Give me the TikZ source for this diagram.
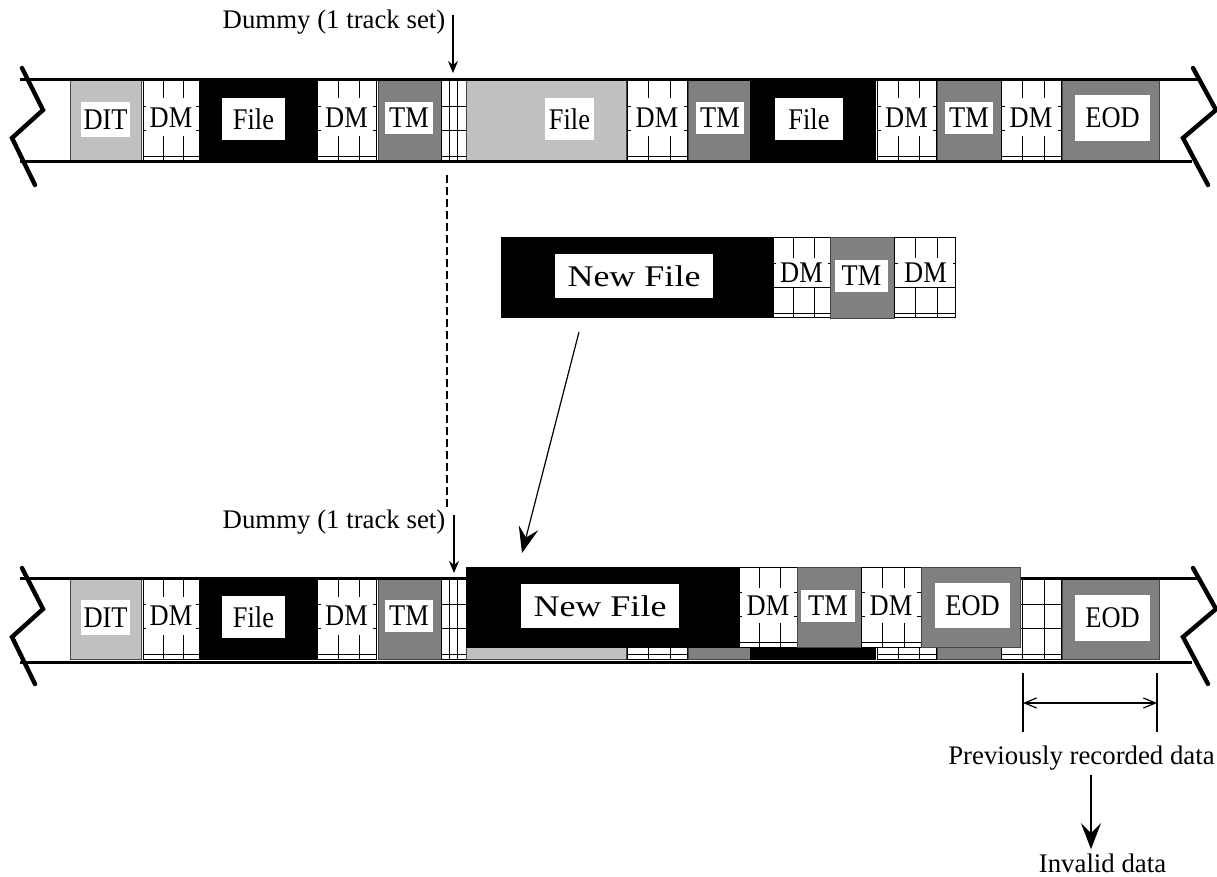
\documentclass[tikz,border=0pt]{standalone}
\usepackage{fontspec}
\setmainfont{Liberation Serif}
\newfontfamily\widefont[FakeStretch=1.2]{Liberation Serif}
\newfontfamily\narrowfont[FakeStretch=0.88]{Liberation Serif}
\usetikzlibrary{calc,arrows.meta}
\definecolor{lgray}{RGB}{192,192,192}
\definecolor{dgray}{RGB}{128,128,128}
\definecolor{edge}{RGB}{70,70,70}

\tikzset{
  cellbox/.style={inner sep=0pt, outer sep=0pt, anchor=north west, draw=edge, line width=0.5pt},
  ditcell/.style={cellbox, fill=lgray},
  filecell/.style={cellbox, fill=black, draw=black},
  tmcell/.style={cellbox, fill=dgray},
  gridcell/.style={cellbox, draw=black, fill=white, path picture={
      \foreach \f in {#1}
        \draw[line width=0.5pt] ($(path picture bounding box.north west)!\f!(path picture bounding box.north east)$)
          -- ($(path picture bounding box.south west)!\f!(path picture bounding box.south east)$);
      \foreach \f in {0.32,0.62,0.94}
        \draw[line width=0.5pt] ($(path picture bounding box.north west)!\f!(path picture bounding box.south west)$)
          -- ($(path picture bounding box.north east)!\f!(path picture bounding box.south east)$);
    }},
  gridcell/.default={0.36,0.72},
  lbl/.style={fill=white, inner sep=0pt, font=\narrowfont\fontsize{15}{15}\selectfont},
  newlbl/.style={font=\widefont\fontsize{15}{15}\selectfont},
  txt/.style={inner sep=2pt, font=\fontsize{13.4}{15}\selectfont},
  tapeline/.style={line width=1.5pt},
  zig/.style={line width=2.2pt, line cap=round},
  guide/.style={line width=0.6pt, dash pattern=on 4pt off 2pt},
  ptr/.style={-{Stealth[length=6pt,width=5pt,inset=2pt]}, line width=0.6pt},
  bigptr/.style={-{Stealth[length=13pt,width=10pt,inset=5pt]}, line width=0.6pt},
  dimline/.style={{Straight Barb[length=6pt,width=5pt]}-{Straight Barb[length=6pt,width=5pt]}, line width=0.6pt},
}

% block on the tape: style, name, x1, y1, x2, y2 (pixels)
\newcommand{\cell}[6]{%
  \pgfmathsetmacro{\cellw}{(#5-#3)/2}%
  \pgfmathsetmacro{\cellh}{(#6-#4)/2}%
  \node[#1, minimum width=\cellw pt, minimum height=\cellh pt] (#2) at (#3,#4) {};}
% white label: [style] name, cx, cy, w, h, text
\newcommand{\blab}[7][]{%
  \pgfmathsetmacro{\labw}{#5/2}%
  \pgfmathsetmacro{\labh}{#6/2}%
  \node[lbl, #1, minimum width=\labw pt, minimum height=\labh pt] (#2) at (#3,#4) {#7};}

\begin{document}
\begin{tikzpicture}[x=0.5pt, y=-0.5pt]
  \useasboundingbox (0,0) rectangle (1217,877);

  % upper tape (before appending)
  \cell{ditcell}{ditA}{70}{81}{141}{161}
  \cell{gridcell}{dmA1}{143}{81}{199}{161}
  \cell{filecell}{fileA1}{199}{81}{317}{161}
  \cell{gridcell}{dmA2}{317}{81}{376}{161}
  \cell{tmcell}{tmA1}{378}{81}{441}{161}
  \cell{gridcell={0.32,0.64}}{dumA}{441}{81}{466}{161}
  \cell{ditcell}{fileA2}{466}{81}{626}{161}
  \cell{gridcell}{dmA3}{627}{81}{687}{161}
  \cell{tmcell}{tmA2}{688}{81}{750}{161}
  \cell{filecell}{fileA3}{750}{81}{875}{161}
  \cell{gridcell}{dmA4}{877}{81}{936}{161}
  \cell{tmcell}{tmA3}{937}{81}{1001}{161}
  \cell{gridcell}{dmA5}{1001}{81}{1061}{161}
  \cell{tmcell}{eodA}{1062}{81}{1159}{161}
  \blab{ditAl}{105.5}{119.5}{49}{35}{DIT}
  \blab{dmA1l}{171}{117.5}{50}{38}{DM}
  \blab{fileA1l}{253.5}{119}{63}{42}{File}
  \blab{dmA2l}{346.5}{117.5}{52}{38}{DM}
  \blab{tmA1l}{409}{118}{48}{32}{TM}
  \blab{fileA2l}{569.5}{119}{49}{42}{File}
  \blab{dmA3l}{657}{117.5}{53}{38}{DM}
  \blab{tmA2l}{720}{118}{48}{32}{TM}
  \blab{fileA3l}{809}{119}{68}{42}{File}
  \blab{dmA4l}{906.5}{117.5}{52}{38}{DM}
  \blab{tmA3l}{969}{118}{48}{32}{TM}
  \blab{dmA5l}{1031}{117.5}{53}{38}{DM}
  \blab{eodAl}{1112.5}{118}{75}{46}{EOD}
  \draw[tapeline] (20,80) -- (1200,80);
  \draw[tapeline] (20,162) -- (1192,162);
  \draw[zig] (22,68) -- (43,110) -- (12,138) -- (35,185);
  \draw[zig] (1193,68) -- (1216,110) -- (1183,138) -- (1208,185);

  % dummy marker, upper
  \node[txt] (dmyA) at (334,22) {Dummy (1 track set)};
  \coordinate (dmyAtop) at (453,15);
  \draw[ptr] (dmyAtop) -- (dmyAtop |- dumA.north) [shorten >=4pt];

  % appended data
  \cell{filecell}{nfM}{501}{238}{773}{318}
  \cell{gridcell}{dmM1}{773}{238}{830}{318}
  \cell{tmcell}{tmM}{830}{238}{894}{319}
  \cell{gridcell}{dmM2}{894}{238}{955}{318}
  \blab[newlbl]{nfMl}{634}{276}{158}{44}{New File}
  \blab{dmM1l}{801.5}{272.5}{52}{29}{DM}
  \blab{tmMl}{861.5}{276}{53}{32}{TM}
  \blab{dmM2l}{925.5}{272.5}{55}{29}{DM}

  % lower tape: old recording
  \cell{ditcell}{ditB}{70}{579}{141}{659}
  \cell{gridcell}{dmB1}{143}{579}{199}{659}
  \cell{filecell}{fileB1}{199}{579}{317}{659}
  \cell{gridcell}{dmB2}{317}{579}{376}{659}
  \cell{tmcell}{tmB1}{378}{579}{441}{659}
  \cell{gridcell={0.32,0.64}}{dumB}{441}{579}{466}{659}
  \cell{ditcell}{oldB1}{466}{579}{626}{659}
  \cell{gridcell}{oldB2}{627}{579}{687}{659}
  \cell{tmcell}{oldB3}{688}{579}{750}{659}
  \cell{filecell}{oldB4}{750}{579}{875}{659}
  \cell{gridcell}{oldB5}{877}{579}{936}{659}
  \cell{tmcell}{oldB6}{937}{579}{1001}{659}
  \cell{gridcell}{oldB7}{1001}{579}{1061}{659}
  \cell{tmcell}{eodB}{1062}{579}{1159}{659}
  \blab{ditBl}{105.5}{617.5}{49}{35}{DIT}
  \blab{dmB1l}{171}{615.5}{50}{38}{DM}
  \blab{fileB1l}{253.5}{617}{63}{42}{File}
  \blab{dmB2l}{346.5}{615.5}{52}{38}{DM}
  \blab{tmB1l}{409}{616}{48}{32}{TM}
  \blab{eodBl}{1112.5}{617.5}{75}{46}{EOD}
  \draw[tapeline] (20,578) -- (1200,578);
  \draw[tapeline] (20,662) -- (1192,662);
  \draw[zig] (22,568) -- (43,609) -- (12,637) -- (35,684);
  \draw[zig] (1193,568) -- (1216,609) -- (1183,637) -- (1208,684);

  % lower tape: overwritten part
  \cell{filecell}{nfB}{466}{567}{738}{647}
  \cell{gridcell}{dmB3}{739}{567}{797}{647}
  \cell{tmcell}{tmB2}{797}{567}{861}{647}
  \cell{gridcell}{dmB4}{861}{567}{921}{647}
  \cell{tmcell}{eodC}{921}{567}{1020}{647}
  \blab[newlbl]{nfBl}{600}{606}{158}{44}{New File}
  \blab{dmB3l}{768}{605.5}{52}{35}{DM}
  \blab{tmB2l}{828}{606}{54}{32}{TM}
  \blab{dmB4l}{891}{605.5}{52}{35}{DM}
  \blab{eodCl}{972.5}{605.5}{75}{45}{EOD}

  % dummy marker, lower
  \node[txt] (dmyB) at (334,522) {Dummy (1 track set)};
  \coordinate (dmyBtop) at (454,515);
  \draw[ptr] (dmyBtop) -- (dmyBtop |- dumB.north) [shorten >=3pt];
  \coordinate (guideA) at (447,175);
  \coordinate (guideB) at (447,510);
  \draw[guide] (guideA) -- (guideB);

  % new file goes onto the tape
  \coordinate (nfTail) at (579,332);
  \coordinate (nfHead) at (522,553);
  \draw[bigptr] (nfTail) -- (nfHead);

  % invalid region
  \coordinate (pvL) at (1023,673);
  \coordinate (pvR) at (1157,673);
  \draw[line width=0.6pt] (pvL) -- ++(0,59);
  \draw[line width=0.6pt] (pvR) -- ++(0,59);
  \draw[dimline] ($(pvL)+(0,30)$) -- ($(pvR)+(0,30)$);
  \node[txt] (prev) at (1081.5,758) {Previously recorded data};
  \node[txt] (inv) at (1102.5,863) {Invalid data};
  \coordinate (invx) at (1091,0);
  \draw[bigptr] (prev.south -| invx) -- (inv.north -| invx);
\end{tikzpicture}
\end{document}
